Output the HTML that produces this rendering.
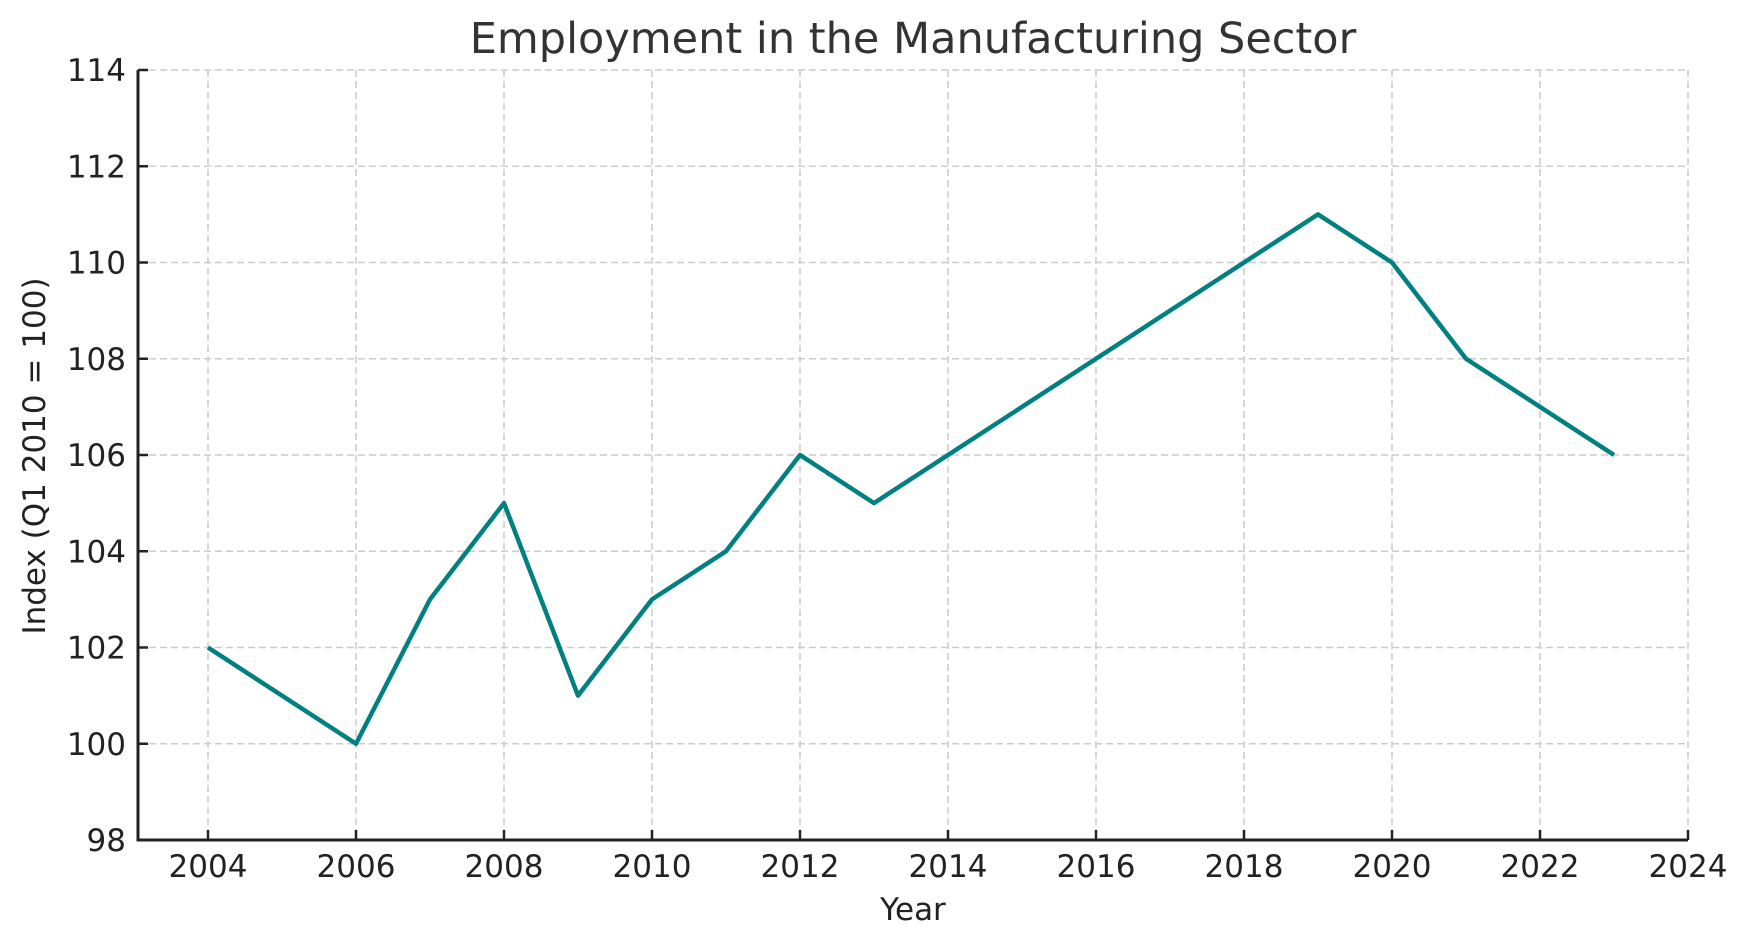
<!DOCTYPE html>
<html><head><meta charset="utf-8"><style>
html,body{margin:0;padding:0;background:#fff;}
svg{display:block;font-family:"DejaVu Sans","Liberation Sans",sans-serif;}
</style></head><body>
<svg id="chart" width="1750" height="947" viewBox="0 0 1750 947">
<text x="913" y="53" text-anchor="middle" font-size="43" fill="#333">Employment in the Manufacturing Sector</text>
<g id="grid"></g>
<g id="ticks"></g>
<path id="series" fill="none" stroke="#008080" stroke-width="4.5" stroke-linejoin="round"></path>
<line x1="138" y1="70" x2="138" y2="841.5" stroke="#222" stroke-width="3"/>
<line x1="136.5" y1="840" x2="1688" y2="840" stroke="#222" stroke-width="3"/>
<text x="913" y="920" text-anchor="middle" font-size="31" fill="#222">Year</text>
<text transform="translate(45,456) rotate(-90)" text-anchor="middle" font-size="31" fill="#222">Index (Q1 2010 = 100)</text>
</svg>
<script>
const years=[2004,2005,2006,2007,2008,2009,2010,2011,2012,2013,2014,2015,2016,2017,2018,2019,2020,2021,2022,2023];
const values=[102,101,100,103,105,101,103,104,106,105,106,107,108,109,110,111,110,108,107,106];
const xTicks=[2004,2006,2008,2010,2012,2014,2016,2018,2020,2022,2024];
const yTicks=[98,100,102,104,106,108,110,112,114];
const NS="http://www.w3.org/2000/svg";
function xs(v){return 208+(v-2004)*74;}
function ys(v){return 840-(v-98)*48.125;}
const grid=document.getElementById('grid'),ticks=document.getElementById('ticks');
function mk(tag,attrs,parent){const e=document.createElementNS(NS,tag);for(const k in attrs)e.setAttribute(k,attrs[k]);parent.appendChild(e);return e;}
xTicks.forEach(t=>{
  const x=xs(t);
  const g=mk('line',{x1:x,y1:70,x2:x,y2:840,stroke:'#ccc','stroke-width':1.5,'stroke-dasharray':'7,4'},grid);
  
  
  const tk=mk('line',{x1:x,y1:840,x2:x,y2:830,stroke:'#222','stroke-width':2.5},ticks);
  
  
  const tx=mk('text',{x:x,y:877,'text-anchor':'middle','font-size':31,fill:'#222'},ticks);
  tx.textContent=t;
  
  
});
yTicks.forEach(t=>{
  const y=ys(t);
  const g=mk('line',{x1:138,y1:y,x2:1688,y2:y,stroke:'#ccc','stroke-width':1.5,'stroke-dasharray':'7,4'},grid);
  
  
  const tk=mk('line',{x1:138,y1:y,x2:148,y2:y,stroke:'#222','stroke-width':2.5},ticks);
  
  
  const tx=mk('text',{x:126,y:y+11,'text-anchor':'end','font-size':31,fill:'#222'},ticks);
  tx.textContent=t;
  
  
});
document.getElementById('series').setAttribute('d',years.map((yr,i)=>(i?'L':'M')+xs(yr)+','+ys(values[i])).join(' '));
</script>
</body></html>
